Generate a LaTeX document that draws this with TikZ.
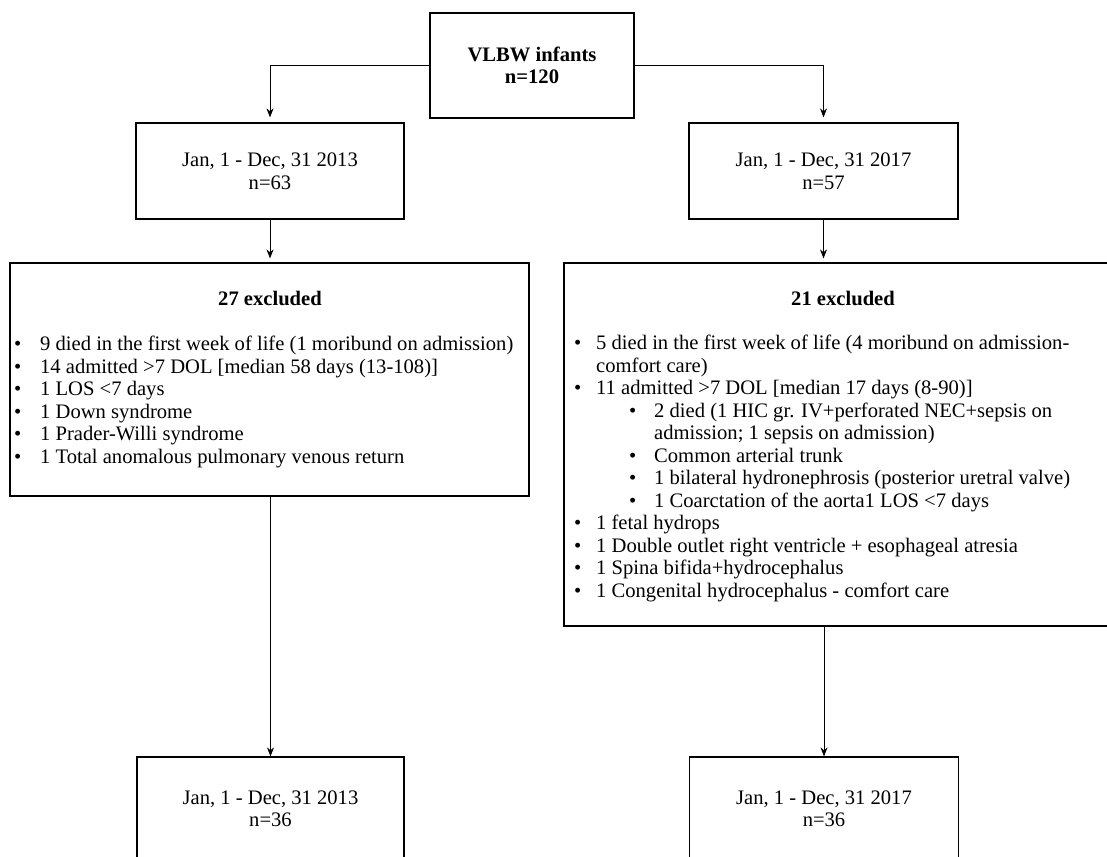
\documentclass[tikz,border=0pt]{standalone}
\usepackage{fontspec}
\setmainfont{Liberation Serif}
\usetikzlibrary{arrows.meta}
\begin{document}
\begin{tikzpicture}[x=1pt,y=-1pt,
  txt/.style={font=\fontsize{20.6}{22.5}\selectfont},
  box/.style={draw, line width=1.2pt, inner sep=0pt, align=center, txt},
  arr/.style={draw, line width=0.8pt, -{Stealth[length=9pt,width=7pt]}},
  lst/.style={inner sep=0pt, align=left, anchor=north west, txt}]
\useasboundingbox (0,0) rectangle (1107,856);
\clip (0,0) rectangle (1107,856);
% boxes
\node[box, minimum width=204pt, minimum height=105pt] (top) at (532,65.5) {\textbf{VLBW infants}\\\textbf{n=120}};
\node[box, minimum width=268pt, minimum height=96pt] (b1) at (270,171) {Jan, 1 - Dec, 31 2013\\n=63};
\node[box, minimum width=269pt, minimum height=96pt] (b2) at (823.5,171) {Jan, 1 - Dec, 31 2017\\n=57};
\node[box, minimum width=519pt, minimum height=233pt] (ex1) at (269.5,379.5) {};
\node[box, minimum width=558pt, minimum height=363pt] (ex2) at (843,444.5) {};
\node[box, minimum width=267pt, minimum height=103pt] (c1) at (270.5,808.5) {Jan, 1 - Dec, 31 2013\\n=36};
\node[box, minimum width=269pt, minimum height=103pt] (c2) at (824,808.5) {Jan, 1 - Dec, 31 2017\\n=36};
% titles
\node[txt, inner sep=0pt] (t1) at (270,298) {\textbf{27 excluded}};
\node[txt, inner sep=0pt] (t2) at (843,298) {\textbf{21 excluded}};
% lists
\node[lst] (l1) at (14,335) {\strut\makebox[26pt][l]{\textbullet}9 died in the first week of life (1 moribund on admission)\\
\makebox[26pt][l]{\textbullet}14 admitted >7 DOL [median 58 days (13-108)]\\
\makebox[26pt][l]{\textbullet}1 LOS <7 days\\
\makebox[26pt][l]{\textbullet}1 Down syndrome\\
\makebox[26pt][l]{\textbullet}1 Prader-Willi syndrome\\
\makebox[26pt][l]{\textbullet}1 Total anomalous pulmonary venous return};
\node[lst] (l2) at (574,334) {\strut\makebox[22pt][l]{\textbullet}5 died in the first week of life (4 moribund on admission-\\
\hspace*{22pt}comfort care)\\
\makebox[22pt][l]{\textbullet}11 admitted >7 DOL [median 17 days (8-90)]\\
\hspace*{55pt}\makebox[25pt][l]{\textbullet}2 died (1 HIC gr. IV+perforated NEC+sepsis on\\
\hspace*{80pt}admission; 1 sepsis on admission)\\
\hspace*{55pt}\makebox[25pt][l]{\textbullet}Common arterial trunk\\
\hspace*{55pt}\makebox[25pt][l]{\textbullet}1 bilateral hydronephrosis (posterior uretral valve)\\
\hspace*{55pt}\makebox[25pt][l]{\textbullet}1 Coarctation of the aorta1 LOS <7 days\\
\makebox[22pt][l]{\textbullet}1 fetal hydrops\\
\makebox[22pt][l]{\textbullet}1 Double outlet right ventricle + esophageal atresia\\
\makebox[22pt][l]{\textbullet}1 Spina bifida+hydrocephalus\\
\makebox[22pt][l]{\textbullet}1 Congenital hydrocephalus - comfort care};
% connectors
\draw[arr, shorten >=5pt] (top.west) -| (b1.north);
\draw[arr, shorten >=5pt] (top.east) -| (b2.north);
\draw[arr, shorten >=4pt] (b1.south) -- (b1.south |- ex1.north);
\draw[arr, shorten >=4pt] (b2.south) -- (b2.south |- ex2.north);
\draw[arr] (c1.north |- ex1.south) -- (c1.north);
\draw[arr] (c2.north |- ex2.south) -- (c2.north);
\end{tikzpicture}
\end{document}
